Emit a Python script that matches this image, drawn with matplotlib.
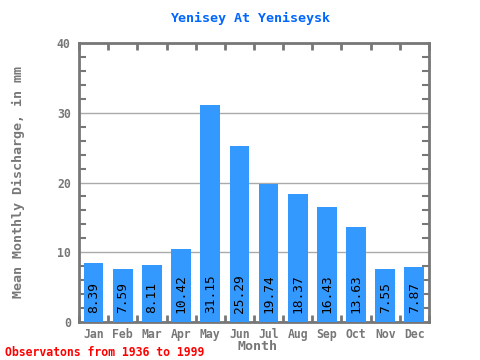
import matplotlib
matplotlib.use("Agg")
import matplotlib.pyplot as plt
import numpy as np
from matplotlib.ticker import MultipleLocator

months = ["Jan", "Feb", "Mar", "Apr", "May", "Jun", "Jul", "Aug", "Sep", "Oct", "Nov", "Dec"]
values = [8.39, 7.59, 8.11, 10.42, 31.15, 25.29, 19.74, 18.37, 16.43, 13.63, 7.55, 7.87]
yticks = [0, 10, 20, 30, 40]

mono = "DejaVu Sans Mono"
gray = "#777777"

fig = plt.figure(figsize=(4.8, 3.6), dpi=100)
ax = fig.add_axes([79/480, 1-322/360, 350/480, 279/360])

x = np.arange(len(months))
ax.bar(x, values, width=0.68, color="#3399FF", zorder=3)
for xi, v in zip(x, values):
    ax.text(xi, 1.3, f"{v:.2f}", rotation=90, ha="center", va="bottom",
            family=mono, fontsize=9.3, color="black", zorder=4)

ax.set_xlim(-0.5, len(months) - 0.5)
ax.set_ylim(0, 40)
ax.set_yticks(yticks)
ax.set_yticklabels([str(t) for t in yticks], family=mono, fontsize=8.3, color=gray, fontweight="bold")
ax.yaxis.set_minor_locator(MultipleLocator(2))
ax.grid(axis="y", which="major", color="#aaaaaa", linewidth=1, zorder=1)

ax.set_xticks(x)
ax.set_xticklabels(months, family=mono, fontsize=8.3, color=gray, fontweight="bold")
ax.set_xticks(np.arange(-0.5, len(months), 1), minor=True)

ax.tick_params(axis="x", which="major", length=0, pad=4)
ax.tick_params(axis="x", which="minor", direction="in", length=5, width=2, color=gray, top=True, bottom=True)
ax.tick_params(axis="y", which="major", direction="in", length=0, pad=6)
ax.tick_params(axis="y", which="minor", direction="in", length=5, width=1.5, color=gray, left=True, right=True)

for s in ax.spines.values():
    s.set_color(gray)
    s.set_linewidth(2)

fig.text(250/480, 1 - 18/360, "Yenisey At Yeniseysk", ha="center", va="center",
         family=mono, fontsize=9.6, fontweight="bold", color="#0066FF")
fig.text(18/480, 1 - 182/360, "Mean Monthly Discharge, in mm", rotation=90, ha="center", va="center",
         family=mono, fontsize=9.6, fontweight="bold", color=gray)
fig.text(258/480, 1 - 347/360, "Month", ha="center", va="center",
         family=mono, fontsize=9.6, fontweight="bold", color=gray)
fig.text(5/480, 1 - 352/360, "Observatons from 1936 to 1999", ha="left", va="center",
         family=mono, fontsize=8.3, fontweight="bold", color="red")

fig.savefig("out.png", dpi=100)
